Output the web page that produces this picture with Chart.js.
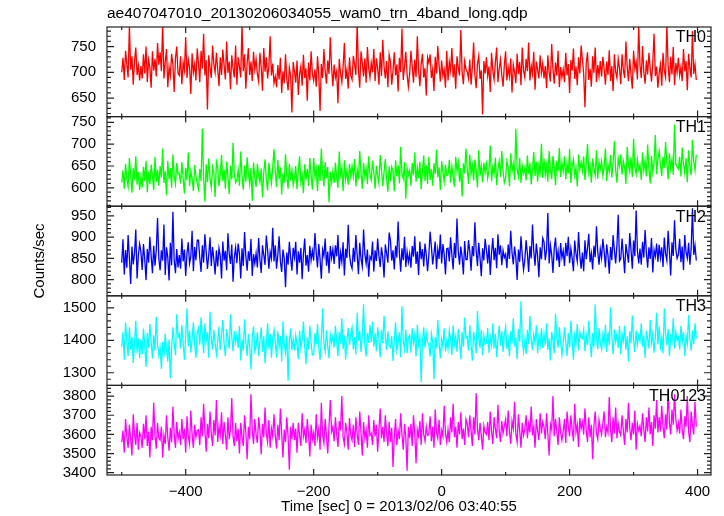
<!DOCTYPE html>
<html>
<head>
<meta charset="utf-8">
<script src="https://cdn.jsdelivr.net/npm/chart.js@4.4.1/dist/chart.umd.min.js"></script>
<style>
  html, body { margin: 0; padding: 0; background: #fff; }
  #wrap { width: 724px; height: 516px; }
</style>
</head>
<body>
<div id="wrap"><canvas id="lc"></canvas></div>
<script>
// light curve, 2 s bins starting at -500 s
const t0 = -500;
const binSec = 2;

const th0 = [
  700, 728, 685, 742, 716, 690, 790, 705, 731, 676, 722, 748, 695, 713, 684,
  712, 688, 735, 698, 750, 681, 724, 709, 670, 741, 703, 726, 692, 757, 715,
  739, 702, 795, 688, 720, 745, 671, 710, 693, 736, 715, 662, 727, 750, 698,
  694, 731, 677, 719, 704, 768, 689, 725, 711, 658, 737, 700, 716, 684, 746,
  718, 681, 742, 707, 775, 694, 724, 628, 733, 709, 689, 752, 717, 700, 738,
  707, 673, 729, 695, 744, 714, 686, 760, 699, 721, 667, 733, 708, 690, 752,
  676, 729, 711, 690, 792, 702, 735, 668, 718, 747, 695, 721, 683, 740, 706,
  725, 697, 682, 738, 710, 664, 747, 701, 729, 688, 712, 770, 694, 717, 679,
  692, 671, 714, 686, 728, 660, 702, 679, 735, 688, 665, 709, 693, 622, 720,
  701, 680, 723, 656, 697, 712, 674, 734, 689, 708, 645, 719, 684, 741, 696,
  684, 706, 672, 731, 695, 625, 716, 689, 745, 702, 678, 723, 697, 768, 710,
  673, 715, 690, 702, 640, 726, 698, 681, 711, 757, 687, 705, 668, 729, 694,
  686, 732, 715, 695, 796, 704, 670, 741, 718, 692, 727, 680, 749, 708, 690,
  718, 700, 745, 683, 727, 709, 676, 739, 693, 763, 712, 688, 722, 671, 734,
  721, 676, 703, 739, 694, 715, 663, 728, 700, 785, 685, 711, 740, 696, 672,
  697, 742, 712, 680, 725, 691, 770, 704, 673, 716, 736, 690, 708, 655, 729,
  718, 735, 689, 706, 664, 730, 698, 751, 714, 682, 723, 693, 705, 670, 742,
  684, 720, 703, 747, 690, 715, 668, 731, 709, 694, 782, 700, 677, 721, 706,
  701, 688, 725, 676, 710, 758, 695, 669, 716, 732, 687, 704, 618, 722, 698,
  729, 693, 711, 662, 738, 704, 686, 719, 748, 681, 707, 725, 695, 672, 714,
  741, 684, 709, 692, 727, 661, 715, 701, 679, 736, 697, 720, 675, 748, 703,
  690, 726, 702, 758, 684, 713, 697, 740, 666, 721, 705, 688, 733, 699, 717,
  688, 712, 669, 733, 700, 682, 755, 706, 678, 719, 694, 742, 671, 710, 690,
  705, 681, 738, 694, 716, 660, 724, 703, 746, 687, 711, 675, 729, 698, 752,
  726, 697, 632, 718, 739, 685, 707, 672, 731, 699, 748, 681, 714, 693, 722,
  692, 730, 707, 676, 721, 695, 743, 683, 712, 664, 735, 701, 689, 726, 708,
  677, 735, 704, 689, 760, 711, 683, 726, 695, 668, 742, 707, 720, 686, 790,
  714, 689, 751, 700, 678, 723, 696, 738, 707, 682, 719, 775, 693, 711, 670,
  699, 715, 674, 738, 703, 690, 793, 712, 681, 730, 696, 749, 675, 718, 700,
  728, 694, 710, 683, 745, 702, 722, 665, 736, 708, 690, 780, 697, 716, 685
];
const th1 = [
  612, 640, 598, 655, 621, 603, 668, 630, 589, 645, 618, 672, 607, 636, 595,
  625, 601, 648, 616, 662, 590, 637, 609, 653, 628, 595, 671, 614, 642, 605,
  650, 624, 690, 611, 638, 583, 662, 619, 645, 600, 676, 628, 609, 657, 632,
  633, 610, 659, 622, 587, 646, 617, 681, 604, 638, 621, 593, 652, 626, 611,
  597, 643, 616, 735, 626, 568, 654, 613, 667, 622, 601, 648, 635, 579, 660,
  648, 604, 631, 675, 615, 642, 598, 660, 625, 586, 651, 619, 703, 630, 612,
  618, 642, 605, 683, 627, 596, 651, 614, 670, 631, 608, 646, 570, 658, 624,
  602, 655, 628, 613, 644, 578, 636, 665, 620, 594, 657, 633, 610, 647, 688,
  639, 602, 664, 620, 647, 585, 633, 611, 677, 628, 598, 655, 617, 641, 606,
  621, 650, 597, 639, 672, 612, 629, 588, 654, 618, 643, 605, 668, 627, 596,
  668, 625, 644, 593, 652, 616, 690, 631, 604, 659, 622, 648, 567, 636, 612,
  637, 611, 658, 624, 600, 683, 630, 646, 592, 663, 619, 640, 607, 655, 626,
  650, 627, 666, 603, 641, 619, 684, 634, 598, 657, 625, 645, 609, 672, 630,
  618, 662, 635, 598, 651, 627, 610, 675, 641, 604, 636, 666, 620, 591, 649,
  615, 648, 638, 592, 663, 626, 652, 610, 694, 633, 621, 659, 575, 645, 629,
  640, 605, 657, 629, 681, 614, 646, 622, 660, 597, 638, 674, 616, 652, 609,
  671, 618, 643, 605, 656, 632, 687, 624, 647, 595, 661, 637, 614, 653, 628,
  630, 664, 612, 649, 626, 602, 671, 638, 658, 614, 645, 580, 656, 633, 690,
  644, 609, 676, 631, 652, 617, 665, 640, 601, 686, 628, 650, 613, 658, 635,
  655, 622, 640, 697, 615, 648, 632, 669, 606, 643, 661, 625, 684, 638, 612,
  622, 661, 646, 603, 679, 637, 655, 618, 735, 642, 626, 668, 611, 650, 633,
  646, 617, 674, 631, 657, 608, 641, 682, 627, 660, 614, 652, 635, 701, 623,
  667, 629, 652, 614, 684, 641, 620, 673, 648, 606, 662, 638, 691, 625, 657,
  638, 672, 620, 656, 633, 689, 611, 650, 665, 628, 645, 603, 676, 642, 659,
  639, 672, 618, 655, 700, 634, 650, 612, 667, 645, 628, 686, 621, 659, 643,
  661, 628, 647, 690, 616, 653, 637, 675, 624, 658, 707, 639, 612, 668, 650,
  676, 630, 661, 647, 609, 694, 653, 637, 670, 625, 712, 648, 632, 665, 641,
  652, 618, 681, 640, 662, 626, 699, 644, 610, 673, 636, 658, 721, 631, 667,
  684, 652, 627, 671, 646, 705, 658, 619, 679, 644, 666, 630, 745, 655, 648,
  643, 671, 626, 692, 655, 634, 668, 613, 686, 650, 629, 710, 661, 640, 676
];
const th2 = [
  840, 895, 812, 870, 828, 905, 851, 790, 878, 836, 862, 918, 803, 857, 884,
  866, 823, 884, 848, 799, 872, 840, 901, 857, 815, 880, 833, 869, 945, 850,
  822, 869, 845, 930, 811, 876, 853, 798, 887, 834, 960, 846, 815, 872, 829,
  858, 826, 897, 843, 871, 809, 862, 888, 838, 854, 915, 820, 877, 846, 893,
  893, 851, 818, 881, 840, 907, 866, 825, 858, 900, 832, 877, 848, 812, 869,
  831, 874, 856, 803, 890, 845, 868, 822, 909, 861, 837, 883, 795, 854, 876,
  839, 885, 861, 803, 874, 832, 912, 855, 821, 867, 844, 896, 809, 860, 838,
  862, 829, 898, 847, 816, 881, 858, 835, 904, 870, 826, 865, 850, 922, 843,
  881, 826, 859, 902, 843, 818, 871, 850, 782, 864, 835, 889, 852, 821, 875,
  853, 889, 812, 867, 840, 875, 801, 861, 897, 833, 858, 819, 880, 846, 868,
  845, 910, 863, 829, 884, 848, 802, 870, 856, 897, 833, 866, 815, 879, 851,
  872, 837, 881, 855, 905, 826, 864, 842, 888, 810, 873, 851, 929, 860, 836,
  826, 875, 842, 905, 858, 813, 887, 849, 831, 918, 860, 838, 871, 807, 854,
  848, 890, 819, 869, 844, 897, 856, 830, 876, 852, 805, 883, 862, 840, 911,
  892, 845, 869, 824, 880, 852, 937, 863, 819, 874, 846, 901, 830, 866, 841,
  861, 828, 879, 854, 902, 837, 866, 811, 890, 848, 872, 831, 885, 858, 820,
  857, 913, 878, 836, 862, 890, 825, 871, 849, 906, 838, 884, 859, 812, 873,
  874, 843, 900, 858, 824, 886, 851, 944, 866, 835, 878, 853, 812, 891, 847,
  847, 893, 866, 821, 879, 855, 935, 868, 832, 887, 851, 808, 874, 845, 896,
  870, 838, 882, 811, 863, 898, 846, 875, 827, 907, 859, 881, 834, 869, 852,
  860, 827, 883, 849, 915, 864, 836, 878, 853, 799, 871, 842, 902, 858, 823,
  845, 893, 862, 818, 879, 850, 930, 867, 833, 885, 856, 806, 876, 848, 898,
  889, 846, 870, 957, 838, 881, 859, 816, 874, 899, 845, 867, 830, 886, 852,
  868, 832, 887, 855, 901, 839, 873, 850, 820, 892, 861, 843, 912, 857, 826,
  864, 820, 893, 848, 875, 908, 841, 862, 824, 880, 853, 926, 866, 835, 872,
  851, 896, 866, 829, 883, 857, 814, 877, 846, 905, 869, 838, 882, 953, 844,
  849, 897, 858, 815, 884, 862, 840, 910, 870, 826, 892, 855, 963, 868, 838,
  873, 835, 889, 852, 917, 864, 828, 876, 849, 898, 817, 870, 855, 885, 842,
  882, 851, 876, 830, 899, 861, 845, 915, 866, 810, 888, 856, 940, 872, 850,
  859, 896, 841, 878, 823, 905, 864, 850, 887, 835, 873, 968, 858, 881, 845
];
const th3 = [
  1380, 1425, 1340, 1455, 1398, 1352, 1440, 1372, 1410, 1330, 1390, 1460, 1362, 1405, 1345,
  1402, 1358, 1436, 1385, 1318, 1422, 1376, 1450, 1395, 1343, 1415, 1368, 1472, 1390, 1354,
  1378, 1312, 1395, 1350, 1420, 1368, 1335, 1402, 1284, 1375, 1440, 1392, 1355, 1480, 1410,
  1420, 1375, 1447, 1392, 1340, 1410, 1498, 1382, 1430, 1362, 1405, 1455, 1388, 1346, 1425,
  1438, 1386, 1470, 1415, 1360, 1452, 1398, 1425, 1346, 1488, 1405, 1372, 1432, 1390, 1357,
  1396, 1442, 1370, 1418, 1462, 1389, 1351, 1435, 1405, 1374, 1480, 1412, 1366, 1428, 1393,
  1418, 1376, 1445, 1338, 1402, 1368, 1465, 1394, 1352, 1420, 1381, 1310, 1408, 1443, 1366,
  1380, 1425, 1352, 1398, 1440, 1365, 1412, 1329, 1390, 1452, 1374, 1419, 1346, 1405, 1432,
  1395, 1347, 1428, 1380, 1412, 1335, 1458, 1389, 1362, 1415, 1275, 1398, 1436, 1370, 1404,
  1368, 1415, 1389, 1342, 1430, 1376, 1403, 1458, 1381, 1326, 1409, 1372, 1445, 1393, 1355,
  1355, 1422, 1388, 1450, 1376, 1340, 1402, 1498, 1392, 1366, 1430, 1381, 1345, 1418, 1393,
  1412, 1378, 1445, 1396, 1352, 1426, 1390, 1468, 1373, 1415, 1340, 1400, 1438, 1385, 1422,
  1440, 1372, 1410, 1356, 1485, 1399, 1428, 1364, 1415, 1512, 1385, 1350, 1423, 1392, 1447,
  1395, 1458, 1380, 1422, 1366, 1440, 1405, 1348, 1432, 1390, 1475, 1414, 1370, 1428, 1383,
  1378, 1413, 1336, 1402, 1455, 1369, 1390, 1425, 1348, 1505, 1397, 1372, 1433, 1360, 1408,
  1416, 1362, 1437, 1392, 1418, 1350, 1448, 1386, 1408, 1271, 1398, 1440, 1377, 1422, 1395,
  1386, 1350, 1420, 1395, 1280, 1410, 1375, 1462, 1392, 1345, 1403, 1380, 1437, 1366, 1398,
  1372, 1430, 1404, 1355, 1446, 1388, 1412, 1365, 1435, 1398, 1342, 1425, 1380, 1470, 1406,
  1412, 1368, 1447, 1385, 1337, 1425, 1398, 1360, 1490, 1407, 1376, 1432, 1354, 1415, 1388,
  1390, 1438, 1362, 1410, 1385, 1452, 1375, 1420, 1348, 1402, 1445, 1383, 1428, 1364, 1417,
  1442, 1373, 1403, 1351, 1428, 1390, 1468, 1380, 1410, 1342, 1435, 1396, 1520, 1400, 1365,
  1400, 1358, 1432, 1388, 1475, 1405, 1370, 1418, 1392, 1446, 1360, 1410, 1385, 1437, 1376,
  1420, 1385, 1452, 1370, 1407, 1338, 1426, 1398, 1360, 1482, 1412, 1377, 1440, 1393, 1355,
  1388, 1440, 1395, 1352, 1422, 1378, 1460, 1401, 1340, 1415, 1392, 1450, 1368, 1425, 1407,
  1405, 1432, 1366, 1415, 1385, 1460, 1395, 1348, 1422, 1378, 1510, 1402, 1372, 1438, 1390,
  1372, 1418, 1390, 1448, 1365, 1426, 1385, 1502, 1410, 1357, 1433, 1396, 1420, 1376, 1444,
  1356, 1420, 1398, 1445, 1371, 1412, 1335, 1428, 1391, 1476, 1403, 1364, 1430, 1387, 1415,
  1398, 1452, 1380, 1415, 1346, 1430, 1402, 1375, 1462, 1393, 1420, 1362, 1410, 1485, 1387,
  1442, 1380, 1408, 1360, 1498, 1418, 1385, 1435, 1352, 1412, 1395, 1468, 1375, 1425, 1400,
  1410, 1372, 1445, 1395, 1425, 1352, 1415, 1390, 1478, 1403, 1368, 1430, 1388, 1452, 1405
];
const th0123 = [
  3560, 3620, 3505, 3680, 3590, 3530, 3650, 3575, 3490, 3705, 3600, 3545, 3660, 3520, 3610,
  3590, 3530, 3655, 3575, 3700, 3540, 3615, 3480, 3640, 3570, 3765, 3595, 3525, 3660, 3580,
  3570, 3640, 3480, 3595, 3550, 3700, 3585, 3515, 3635, 3560, 3745, 3600, 3530, 3665, 3575,
  3610, 3545, 3680, 3575, 3630, 3505, 3695, 3590, 3550, 3725, 3600, 3530, 3650, 3585, 3620,
  3625, 3545, 3690, 3590, 3760, 3620, 3510, 3655, 3580, 3720, 3605, 3540, 3675, 3595, 3780,
  3560, 3640, 3595, 3715, 3550, 3665, 3600, 3520, 3690, 3575, 3625, 3790, 3590, 3540, 3660,
  3565, 3630, 3500, 3660, 3585, 3540, 3700, 3610, 3470, 3640, 3575, 3810, 3620, 3550, 3680,
  3600, 3555, 3690, 3620, 3495, 3655, 3585, 3740, 3605, 3560, 3675, 3530, 3630, 3590, 3705,
  3595, 3525, 3650, 3570, 3735, 3605, 3480, 3625, 3560, 3690, 3590, 3415, 3640, 3575, 3660,
  3570, 3630, 3505, 3660, 3595, 3540, 3710, 3590, 3625, 3555, 3680, 3600, 3485, 3650, 3575,
  3610, 3540, 3705, 3585, 3630, 3520, 3765, 3600, 3555, 3680, 3590, 3500, 3645, 3780, 3615,
  3640, 3565, 3690, 3600, 3535, 3670, 3620, 3800, 3585, 3550, 3660, 3610, 3520, 3685, 3595,
  3570, 3650, 3535, 3690, 3600, 3545, 3720, 3610, 3490, 3665, 3580, 3625, 3530, 3700, 3595,
  3605, 3545, 3675, 3590, 3650, 3510, 3625, 3735, 3580, 3640, 3560, 3700, 3600, 3540, 3665,
  3560, 3635, 3430, 3590, 3680, 3545, 3620, 3575, 3710, 3600, 3520, 3655, 3585, 3410, 3640,
  3580, 3655, 3540, 3700, 3605, 3450, 3625, 3590, 3670, 3545, 3710, 3600, 3565, 3640, 3595,
  3600, 3695, 3565, 3640, 3530, 3730, 3610, 3580, 3675, 3545, 3620, 3590, 3750, 3605, 3560,
  3625, 3560, 3690, 3610, 3760, 3585, 3640, 3530, 3665, 3600, 3715, 3575, 3630, 3545, 3680,
  3655, 3585, 3700, 3620, 3540, 3690, 3600, 3815, 3630, 3570, 3660, 3595, 3520, 3645, 3610,
  3600, 3665, 3570, 3720, 3615, 3550, 3690, 3630, 3580, 3755, 3620, 3560, 3670, 3605, 3645,
  3680, 3590, 3725, 3615, 3550, 3670, 3630, 3770, 3600, 3560, 3705, 3620, 3530, 3660, 3595,
  3625, 3700, 3580, 3655, 3610, 3745, 3595, 3640, 3530, 3680, 3620, 3570, 3710, 3605, 3665,
  3640, 3575, 3710, 3605, 3490, 3655, 3625, 3800, 3590, 3680, 3615, 3545, 3690, 3610, 3570,
  3615, 3680, 3555, 3720, 3640, 3590, 3700, 3625, 3565, 3760, 3610, 3650, 3535, 3685, 3630,
  3665, 3600, 3735, 3620, 3560, 3690, 3585, 3650, 3470, 3640, 3720, 3605, 3575, 3675, 3630,
  3600, 3660, 3720, 3585, 3640, 3610, 3795, 3625, 3560, 3690, 3605, 3740, 3580, 3655, 3615,
  3595, 3700, 3620, 3545, 3680, 3610, 3765, 3635, 3570, 3660, 3600, 3725, 3520, 3655, 3620,
  3645, 3590, 3710, 3625, 3560, 3690, 3615, 3740, 3600, 3665, 3540, 3700, 3630, 3780, 3610,
  3690, 3615, 3750, 3640, 3580, 3705, 3625, 3840, 3660, 3600, 3730, 3650, 3810, 3680, 3620,
  3660, 3605, 3730, 3625, 3575, 3695, 3640, 3800, 3615, 3560, 3720, 3650, 3600, 3770, 3640
];

const bands = ['TH0', 'TH1', 'TH2', 'TH3', 'TH0123'];
const bandColors = ['#ff0000', '#00ff00', '#0000ff', '#00ffff', '#ff00ff'];
const series = [th0, th1, th2, th3, th0123];

// y ranges per panel and tick labels
const yMins = [614, 558, 762, 1261, 3388];
const yMaxs = [788, 763, 973, 1537, 3856];
const yTicks = [
  [650, 700, 750],
  [600, 650, 700, 750],
  [800, 850, 900, 950],
  [1300, 1400, 1500],
  [3400, 3500, 3600, 3700, 3800]
];
const yMinor = [10, 10, 10, 20, 20];
const xTicks = [-400, -200, 0, 200, 400];
const xMinorTicks = [-500, -300, -100, 100, 300];

const times = th0.map((_, i) => t0 + binSec * i);

const FONT = 'Liberation Sans, Arial, Helvetica, sans-serif';

const scales = {
  x: {
    type: 'linear',
    min: -523, max: 421,
    grid: { display: false, drawTicks: false },
    border: { display: false },
    afterBuildTicks: s => { s.ticks = xTicks.map(v => ({ value: v })); },
    afterFit: s => { s.height = 41; },
    ticks: {
      color: '#000', padding: 8, maxRotation: 0, autoSkip: false,
      font: { family: FONT, size: 15 },
      callback: v => String(v).replace('-', '\u2212')
    }
  }
};
// declared bottom panel first: stacked left axes are placed in reverse order
for (let i = bands.length - 1; i >= 0; i--) {
  scales['y' + i] = {
    type: 'linear',
    position: 'left',
    stack: 'panels',
    stackWeight: 1,
    min: yMins[i], max: yMaxs[i],
    grid: { display: false, drawTicks: false },
    border: { display: false },
    afterBuildTicks: s => { s.ticks = yTicks[i].map(v => ({ value: v })); },
    afterFit: s => { s.width = 107; },
    ticks: {
      color: '#000', padding: 11, autoSkip: false,
      font: { family: FONT, size: 15 },
      callback: v => String(v)
    }
  };
}

const frames = {
  id: 'frames',
  beforeDatasetDraw(chart, args) {
    const ys = args.meta.yScale;
    const a = chart.chartArea;
    chart.ctx.save();
    chart.ctx.beginPath();
    chart.ctx.rect(a.left, ys.top, a.right - a.left, ys.bottom - ys.top);
    chart.ctx.clip();
  },
  afterDatasetDraw(chart) {
    chart.ctx.restore();
  },
  afterDraw(chart) {
    const ctx = chart.ctx;
    const a = chart.chartArea;
    const xs = chart.scales.x;
    ctx.save();
    ctx.strokeStyle = '#222';
    ctx.lineWidth = 1.2;
    bands.forEach((name, i) => {
      const ys = chart.scales['y' + i];
      const top = ys.top, bot = ys.bottom;
      ctx.strokeRect(a.left, top, a.right - a.left, bot - top);
      ctx.beginPath();
      const tickX = (v, len) => {
        const px = xs.getPixelForValue(v);
        ctx.moveTo(px, bot); ctx.lineTo(px, bot - len);
        ctx.moveTo(px, top); ctx.lineTo(px, top + len);
      };
      xTicks.forEach(v => tickX(v, 6));
      xMinorTicks.forEach(v => tickX(v, 3));
      const step = yMinor[i];
      for (let v = Math.ceil(yMins[i] / step) * step; v <= yMaxs[i]; v += step) {
        const py = ys.getPixelForValue(v);
        const len = yTicks[i].includes(v) ? 7 : 4;
        ctx.moveTo(a.left, py); ctx.lineTo(a.left + len, py);
        ctx.moveTo(a.right, py); ctx.lineTo(a.right - len, py);
      }
      ctx.stroke();
      ctx.fillStyle = '#000';
      ctx.font = '16px ' + FONT;
      ctx.textAlign = 'right';
      ctx.textBaseline = 'middle';
      ctx.fillText(name, a.right - 5, top + 11);
    });
    ctx.fillStyle = '#000';
    ctx.font = '15.5px ' + FONT;
    ctx.textAlign = 'left';
    ctx.textBaseline = 'middle';
    ctx.fillText('ae407047010_20130206034055_wam0_trn_4band_long.qdp', a.left, 14);
    ctx.font = '15px ' + FONT;
    ctx.textAlign = 'center';
    ctx.fillText('Time [sec] 0 = 2013/02/06 03:40:55', (a.left + a.right) / 2 - 10, 507);
    ctx.translate(40, 261);
    ctx.rotate(-Math.PI / 2);
    ctx.fillText('Counts/sec', 0, 0);
    ctx.restore();
  }
};

new Chart(document.getElementById('lc'), {
  type: 'line',
  data: {
    datasets: series.map((vals, i) => ({
      label: bands[i],
      data: vals.map((v, j) => ({ x: times[j], y: v })),
      yAxisID: 'y' + i,
      borderColor: bandColors[i],
      borderWidth: 1.3,
      pointRadius: 0,
      tension: 0,
      clip: false
    }))
  },
  options: {
    responsive: true,
    maintainAspectRatio: false,
    animation: false,
    layout: { padding: { top: 27, right: 13, left: 0, bottom: 0 } },
    plugins: { legend: { display: false }, tooltip: { enabled: false } },
    scales: scales
  },
  plugins: [frames]
});
</script>
</body>
</html>
